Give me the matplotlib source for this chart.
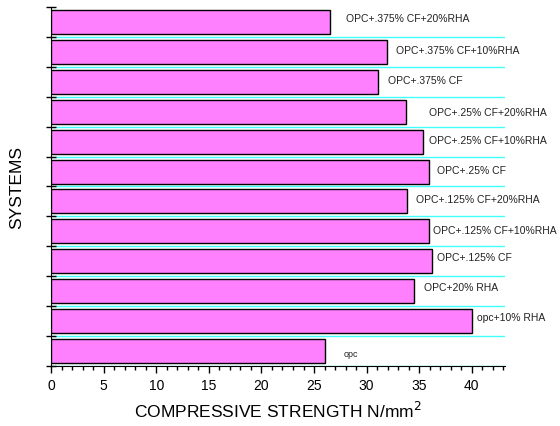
import numpy as np
from matplotlib import pyplot as plt
from matplotlib.ticker import MultipleLocator, FixedLocator

plt.rcParams['font.family'] = ['Liberation Sans', 'DejaVu Sans']

# bottom to top
systems = ['opc', 'opc+10% RHA', 'OPC+20% RHA', 'OPC+.125% CF',
           'OPC+.125% CF+10%RHA', 'OPC+.125% CF+20%RHA', 'OPC+.25% CF',
           'OPC+.25% CF+10%RHA', 'OPC+.25% CF+20%RHA', 'OPC+.375% CF',
           'OPC+.375% CF+10%RHA', 'OPC+.375% CF+20%RHA']
strength = [26.0, 40.0, 34.5, 36.2, 35.9, 33.8, 35.9, 35.4, 33.7, 31.1, 31.9, 26.5]

# label placement tweaks (points)
lab_dx = [14, 4, 7, 4, 3, 7, 6, 4, 17, 7, 7, 12]
lab_dy = [-2, 3, 3, 3, 1, 2, 1, 1, 0, 1, 1, 3]

fig = plt.figure(figsize=(5.6, 4.27), dpi=100)
ax = fig.add_axes([51/560, 1 - 367/427, 454/560, 359/427])

y = np.arange(len(systems))
ax.barh(y, strength, height=0.8, color='#ff80ff', edgecolor='black', linewidth=1, zorder=3)

for i in range(len(systems)):
    fs = 6.5 if systems[i] == 'opc' else 7.5
    ax.annotate(systems[i], (strength[i], y[i]), xytext=(lab_dx[i], lab_dy[i]),
                textcoords='offset points', va='center', ha='left', fontsize=fs, color='#222222')

ax.set_xlim(0, 43.15)
ax.set_ylim(-0.5, len(systems) - 0.5)
ax.xaxis.set_major_locator(MultipleLocator(5))
ax.xaxis.set_minor_locator(MultipleLocator(1))
ax.yaxis.set_major_locator(FixedLocator(np.arange(len(systems) + 1) - 0.5))
ax.set_yticklabels([])
ax.tick_params(axis='x', which='major', direction='out', length=5, width=1, labelsize=10, pad=4)
ax.tick_params(axis='x', which='minor', direction='out', length=3, width=1)
ax.tick_params(axis='y', which='major', direction='inout', length=7, width=1)
ax.grid(axis='y', color='#40ffff', linewidth=1, zorder=1)
ax.get_ygridlines()[-1].set_visible(False)

ax.spines['top'].set_visible(False)
ax.spines['right'].set_visible(False)

ax.set_xlabel('COMPRESSIVE STRENGTH N/mm$^2$', fontsize=12.5, labelpad=5)
ax.set_ylabel('SYSTEMS', fontsize=12.5, labelpad=12)

plt.savefig('out.png', dpi=100)
